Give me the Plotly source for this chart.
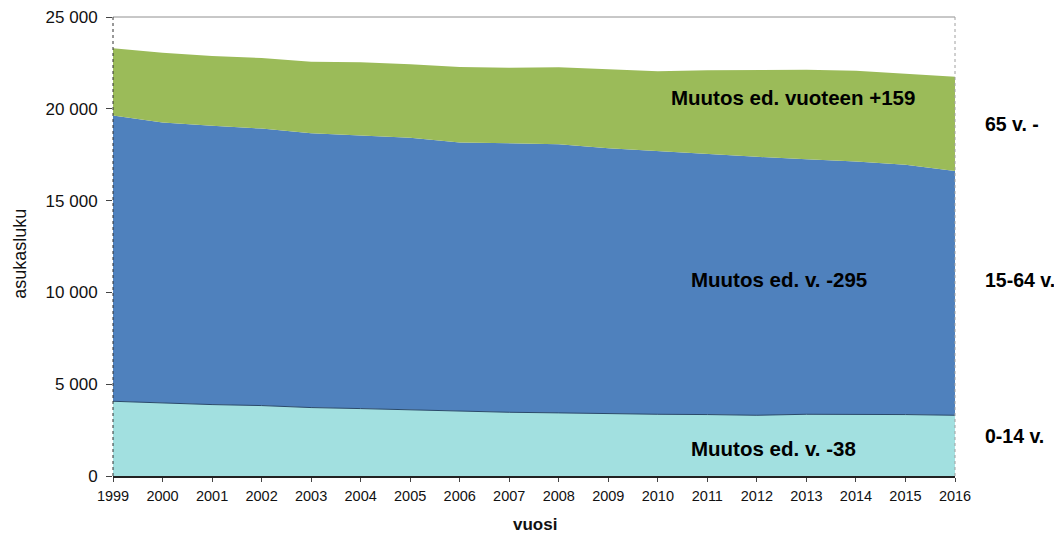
import plotly.graph_objects as go

years = list(range(1999, 2017))
age_0_14 = [4070, 3961, 3890, 3836, 3727, 3672, 3602, 3525, 3471, 3438,
            3384, 3362, 3346, 3308, 3362, 3362, 3346, 3308]
age_15_64 = [15560, 15288, 15180, 15087, 14946, 14892, 14815, 14636, 14636, 14636,
             14473, 14331, 14200, 14075, 13896, 13765, 13602, 13307]
age_65 = [3667, 3809, 3808, 3846, 3895, 3971, 4009, 4119, 4135, 4189,
          4297, 4353, 4554, 4717, 4875, 4952, 4967, 5126]

y_ticks = [0, 5000, 10000, 15000, 20000, 25000]
y_tick_labels = ["0", "5 000", "10 000", "15 000", "20 000", "25 000"]

series_names = ["0-14 v.", "15-64 v.", "65 v. -"]
change_texts = ["Muutos ed. v. -38", "Muutos ed. v. -295", "Muutos ed. vuoteen +159"]

FONT = "Liberation Sans, Arial, sans-serif"

fig = go.Figure()
fig.add_trace(go.Scatter(x=years, y=age_0_14, name=series_names[0], mode="lines",
                         stackgroup="a", fillcolor="#A2E0E0",
                         line=dict(color="#2A4A6A", width=1)))
fig.add_trace(go.Scatter(x=years, y=age_15_64, name=series_names[1], mode="lines",
                         stackgroup="a", fillcolor="#4F81BD",
                         line=dict(color="#4F81BD", width=0)))
fig.add_trace(go.Scatter(x=years, y=age_65, name=series_names[2], mode="lines",
                         stackgroup="a", fillcolor="#9BBB59",
                         line=dict(color="#9BBB59", width=0)))

# change annotations inside the areas
for txt, xa, ya in zip(change_texts, [2012.33, 2012.45, 2012.73], [1496, 10691, 20593]):
    fig.add_annotation(x=xa, y=ya, text="<b>" + txt + "</b>", showarrow=False,
                       xanchor="center", yanchor="middle",
                       font=dict(family=FONT, size=20.5, color="black"), xref="x", yref="y")

# right-side series labels
for name, yp in zip(series_names, [0.088, 0.428, 0.767]):
    fig.add_annotation(x=1.033, y=yp, xref="paper", yref="paper", text="<b>" + name + "</b>",
                       showarrow=False, xanchor="left", yanchor="middle",
                       font=dict(family=FONT, size=19.5, color="black"))

# axis titles
fig.add_annotation(x=0.501, y=-0.1056, xref="paper", yref="paper", text="<b>vuosi</b>",
                   showarrow=False, xanchor="center", yanchor="middle",
                   font=dict(family=FONT, size=17, color="#111111"))
fig.add_annotation(x=-0.1105, y=0.484, xref="paper", yref="paper", text="asukasluku",
                   showarrow=False, textangle=-90, xanchor="center", yanchor="middle",
                   font=dict(family=FONT, size=18, color="#111111"))

# plot area border (top/right light gray) and dotted left axis
fig.add_shape(type="line", xref="paper", yref="paper", x0=0, x1=1, y0=1, y1=1,
              line=dict(color="#909090", width=1))
fig.add_shape(type="line", xref="paper", yref="paper", x0=1, x1=1, y0=0, y1=1,
              line=dict(color="#A0A0A0", width=1, dash="dot"))
fig.add_shape(type="line", xref="paper", yref="paper", x0=0, x1=0, y0=0, y1=1,
              line=dict(color="#333333", width=1, dash="dot"))

fig.update_layout(
    width=1062, height=534,
    margin=dict(l=105, r=115, t=9, b=65.5, autoexpand=False),
    paper_bgcolor="white", plot_bgcolor="white",
    showlegend=False,
    font=dict(family=FONT, color="black"),
    xaxis=dict(range=[1999, 2016], tickvals=years, ticktext=[str(y) for y in years],
               automargin=False, ticklabeloverflow="allow",
               showgrid=False, zeroline=False, showline=True, linecolor="#222222",
               linewidth=1.5, ticks="outside", ticklen=4, tickcolor="#444444",
               ticklabelstandoff=2,
               tickfont=dict(family=FONT, size=14.5, color="#111111")),
    yaxis=dict(range=[0, 25000], tickvals=y_ticks, ticktext=y_tick_labels,
               automargin=False, ticklabeloverflow="allow",
               showgrid=False, zeroline=False, showline=False,
               ticks="outside", ticklen=6, tickcolor="#444444",
               ticklabelstandoff=5,
               tickfont=dict(family=FONT, size=17, color="#111111")),
)

fig.write_html("out.html")
